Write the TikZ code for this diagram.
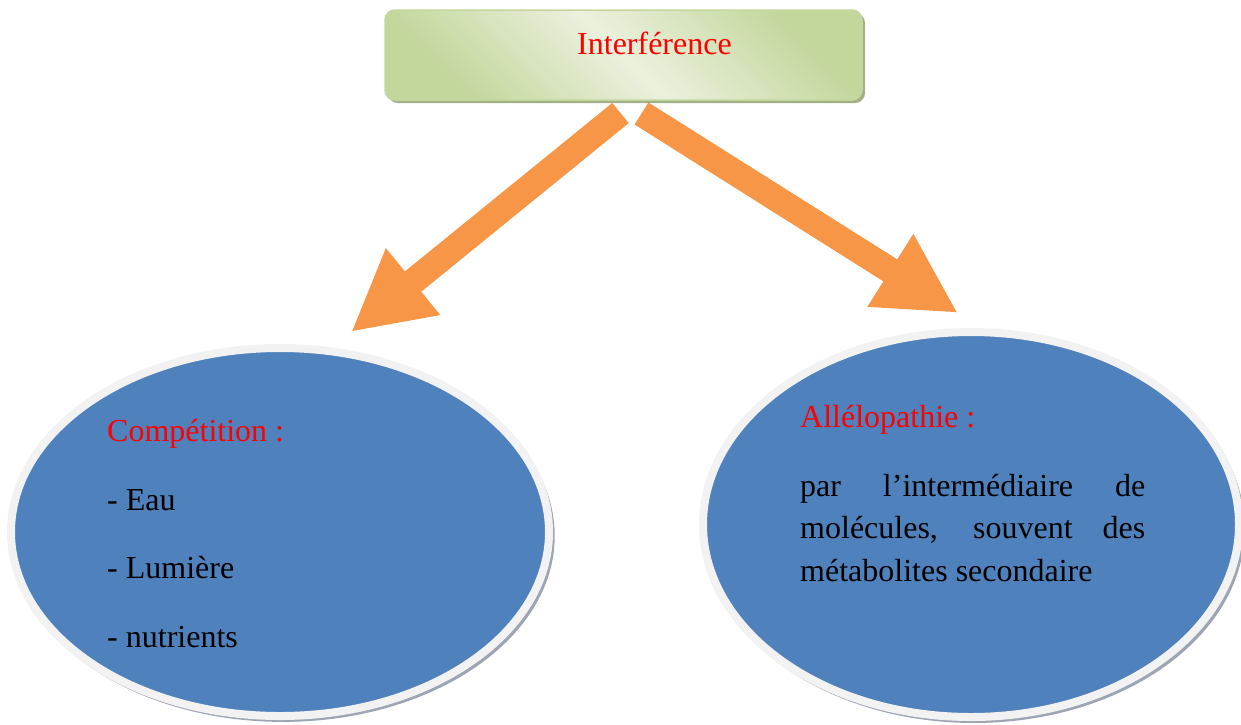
\documentclass[tikz,border=0pt]{standalone}
\usepackage{fontspec}
\setmainfont{Liberation Serif}
\usepackage{tikz}
\usetikzlibrary{shapes.geometric,arrows.meta,shadows}

\definecolor{boxgreen}{HTML}{C3D69B}
\definecolor{boxlight}{HTML}{EBF1DE}
\definecolor{boxshadow}{HTML}{A2B088}
\definecolor{ellblue}{HTML}{4F81BD}
\definecolor{rimgray}{HTML}{F2F2F2}
\definecolor{ellshadow}{HTML}{9DA5B5}
\definecolor{arroworange}{HTML}{F79646}

\tikzset{
  txt/.style={anchor=base west, inner sep=0pt, font=\fontsize{32}{38}\selectfont},
  redtxt/.style={txt, text=red},
  topbox/.style={rectangle, rounded corners=10pt, draw=boxgreen, line width=1.5pt,
    minimum width=477pt, minimum height=90pt,
    top color=boxgreen, bottom color=boxgreen, middle color=boxlight, shading angle=-45,
    drop shadow={shadow xshift=3pt, shadow yshift=-3pt, fill=boxshadow, opacity=1}},
  bubble/.style={ellipse, fill=ellblue, draw=rimgray, line width=8pt, inner sep=0pt,
    drop shadow={shadow xshift=3pt, shadow yshift=-4pt, shadow scale=1.01, fill=ellshadow, opacity=1}},
  bigarrow/.style={draw=arroworange, line width=26pt, -{Triangle[length=80pt,width=80pt]}}
}

\begin{document}
\begin{tikzpicture}[x=1pt,y=-1pt]
\useasboundingbox (0,0) rectangle (1241,724);

\node[topbox] (top) at (623.5,55) {};
\node[redtxt] (interf) at (577,54) {Interférence};

\node[bubble, minimum width=538pt, minimum height=368pt] (comp) at (280,532) {};
\node[bubble, minimum width=536pt, minimum height=385pt] (allelo) at (971,524.5) {};

% arrows
\coordinate (lsrc) at (620.5,113);
\coordinate (ltip) at (351,332);
\coordinate (rsrc) at (641.5,113.5);
\coordinate (rtip) at (958,313);
\foreach \from/\to in {lsrc/ltip,rsrc/rtip}
\draw[bigarrow] (\from) -- (\to);

% left text
\node[redtxt] (comptitle) at (107,441) {Compétition :};
\node[txt] (eau) at (107,510) {- Eau};
\node[txt] (lum) at (107,578) {- Lumière};
\node[txt] (nut) at (107,647) {- nutrients};

% right text
\node[redtxt] (allelotitle) at (800,427) {Allélopathie :};
\node[txt] (line1) at (800,496) {\makebox[345pt][s]{par l’intermédiaire de}};
\node[txt] (line2) at (800,538.5) {\makebox[345pt][s]{molécules, souvent des}};
\node[txt] (line3) at (800,581) {métabolites secondaire};
\end{tikzpicture}
\end{document}
